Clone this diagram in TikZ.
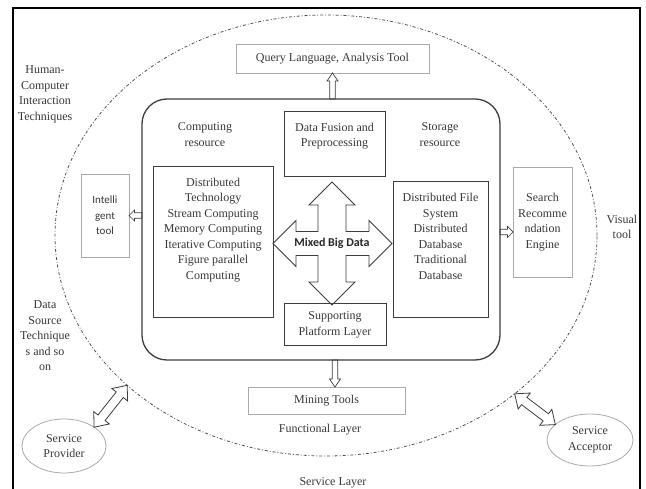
\documentclass[tikz,border=0pt]{standalone}
\usepackage{fontspec}
\setmainfont{Liberation Serif}
\newfontfamily\calibrifont{Carlito}
\usepackage{tikz}
\usetikzlibrary{shapes.geometric, positioning, calc}
\definecolor{bdink}{RGB}{55,55,55}
\definecolor{bdline}{RGB}{60,60,60}
\definecolor{bdlight}{RGB}{170,170,170}
\definecolor{bddash}{RGB}{80,80,80}
\tikzset{
  %% ---- boxes ----
  core/.style    = {rectangle, rounded corners=25pt, draw=bdline,
                    line width=1.3pt, inner sep=0pt, outer sep=0pt},
  block/.style   = {rectangle, draw=bdline, line width=1pt,
                    inner sep=0pt, outer sep=0pt, align=center},
  toolbox/.style = {rectangle, draw=bdlight, line width=0.8pt,
                    inner sep=0pt, outer sep=0pt, align=center},
  svc/.style     = {ellipse, draw=bdlight, line width=0.8pt,
                    inner sep=0pt, outer sep=0pt, align=center},
  txt/.style     = {inner sep=0pt, align=center},
  layer/.style   = {ellipse, draw=bddash, line width=0.8pt,
                    dash pattern=on 3pt off 2pt on 0.8pt off 2pt,
                    inner sep=0pt, outer sep=0pt},
  %% ---- arrows ----
  crossline/.style = {draw=bdline, line width=0.9pt, line join=miter},
  hollow/.style  = {draw=bdline, line width=0.7pt, to path={
      ($(\tikztostart)!2.8pt!90:(\tikztotarget)$)
      -- ($($(\tikztotarget)!#1!(\tikztostart)$)!2.8pt!-90:(\tikztostart)$)
      -- ($($(\tikztotarget)!#1!(\tikztostart)$)!5.5pt!-90:(\tikztostart)$)
      -- (\tikztotarget)
      -- ($($(\tikztotarget)!#1!(\tikztostart)$)!5.5pt!90:(\tikztostart)$)
      -- ($($(\tikztotarget)!#1!(\tikztostart)$)!2.8pt!90:(\tikztostart)$)
      -- ($(\tikztostart)!2.8pt!-90:(\tikztotarget)$)
      -- cycle}},
  hollow/.default = 8pt,
  hollowboth/.style = {draw=bdline, line width=0.8pt, to path={
      (\tikztostart)
      -- ($($(\tikztostart)!12pt!(\tikztotarget)$)!10pt!90:(\tikztotarget)$)
      -- ($($(\tikztostart)!12pt!(\tikztotarget)$)!4.5pt!90:(\tikztotarget)$)
      -- ($($(\tikztotarget)!12pt!(\tikztostart)$)!4.5pt!-90:(\tikztostart)$)
      -- ($($(\tikztotarget)!12pt!(\tikztostart)$)!10pt!-90:(\tikztostart)$)
      -- (\tikztotarget)
      -- ($($(\tikztotarget)!12pt!(\tikztostart)$)!10pt!90:(\tikztostart)$)
      -- ($($(\tikztotarget)!12pt!(\tikztostart)$)!4.5pt!90:(\tikztostart)$)
      -- ($($(\tikztostart)!12pt!(\tikztotarget)$)!4.5pt!-90:(\tikztotarget)$)
      -- ($($(\tikztostart)!12pt!(\tikztotarget)$)!10pt!-90:(\tikztotarget)$)
      -- cycle}},
}
\begin{document}
\begin{tikzpicture}[x=1pt, y=-1pt,
  every node/.style = {font=\fontsize{12}{15.5}\selectfont, text=bdink}
]
\useasboundingbox (0,0) rectangle (646,489);

% page frame, its lower edge runs off the picture
\draw[black, line width=1.2pt] (13,489) |- (640,8) -- (640,489);

% functional layer (dash-dot ellipse)
\node[layer, minimum width=542pt, minimum height=441pt] (funclayer) at (326,235.5) {};

% core platform
\node[core, minimum width=358pt, minimum height=261pt] (core) at (321,229.5) {};

\node[txt] (comptitle)  at (205,134.5) {Computing\\resource};
\node[txt] (storetitle) at (440,134.5) {Storage\\resource};

\node[block, minimum width=101pt, minimum height=65pt] (fusion) at (334.5,144.5) {};
\node[txt, below=10.5pt of fusion.north] (fusiontxt) {Data Fusion and\\Preprocessing};

\node[block, minimum width=120pt, minimum height=151pt] (compbox) at (213,242.5) {};
\node[txt, below=10.5pt of compbox.north] (comptxt)
  {Distributed\\Technology\\Stream Computing\\Memory Computing\\Iterative Computing\\Figure parallel\\Computing};

\node[block, minimum width=95pt, minimum height=136pt] (storebox) at (440.5,250) {};
\node[txt, below=11pt of storebox.north] (storetxt)
  {Distributed File\\System\\Distributed\\Database\\Traditional\\Database};

\node[block, minimum width=102pt, minimum height=42pt] (support) at (335,325) {Supporting\\Platform Layer};

% four-way arrow round the mixed data
\node[txt, font=\calibrifont\bfseries\fontsize{12}{14}\selectfont, text=black!85]
  (mixed) at (332,243.5) {Mixed Big Data};
\draw[crossline, shift={(mixed.center)}]
  (0,-61.5) -- (23,-38.5) -- (14,-38.5) -- (14,-12) -- (37,-12) -- (37,-23)
  -- (60,0) -- (37,23) -- (37,12) -- (14,12) -- (14,38.5) -- (23,38.5)
  -- (0,61.5) -- (-23,38.5) -- (-14,38.5) -- (-14,12) -- (-36,12) -- (-36,23)
  -- (-59,0) -- (-36,-23) -- (-36,-12) -- (-14,-12) -- (-14,-38.5) -- (-23,-38.5)
  -- cycle;

% tools round the core
\node[toolbox, minimum width=193pt, minimum height=29pt] (query) at (332.5,58.5) {Query Language, Analysis Tool};
\node[toolbox, minimum width=48pt, minimum height=83pt,
      font=\calibrifont\fontsize{11}{15.5}\selectfont] (intel) at (105,215.5) {Intelli\\gent\\tool};
\node[toolbox, minimum width=59pt, minimum height=110pt] (search) at (542.5,222) {Search\\Recomme\\ndation\\Engine};
\node[toolbox, minimum width=157pt, minimum height=27pt] (mining) at (326.5,400.5) {Mining Tools};

% side labels
\node[txt] (hci)       at (45,94.5) {Human-\\Computer\\Interaction\\Techniques};
\node[txt] (datasrc)   at (45,336)  {Data\\Source\\Technique\\s and so\\on};
\node[txt] (visual)    at (622,227) {Visual\\tool};
\node[txt] (funclabel) at (320,430) {Functional Layer};
\node[txt] (svclabel)  at (333,483) {Service Layer};

% service ends
\node[svc, minimum width=84pt, minimum height=54pt] (provider) at (64,446)  {Service\\Provider};
\node[svc, minimum width=86pt, minimum height=52pt] (acceptor) at (590,440) {Service\\Acceptor};

% Arrows
\coordinate (searchin) at ($(search.west)+(0,10)$);
\draw[hollow]       (core.north -| query)   to (query.south);
\draw[hollow]       (core.south -| support) to (mining.north -| support);
\draw[hollow=5.5pt] (core.west |- intel)    to (intel.east);
\draw[hollow=5.5pt] (core.east |- searchin) to (searchin);
\draw[hollowboth]   (provider.32)  to (funclayer.217);
\draw[hollowboth]   (acceptor.156) to (funclayer.320);

\end{tikzpicture}
\end{document}
